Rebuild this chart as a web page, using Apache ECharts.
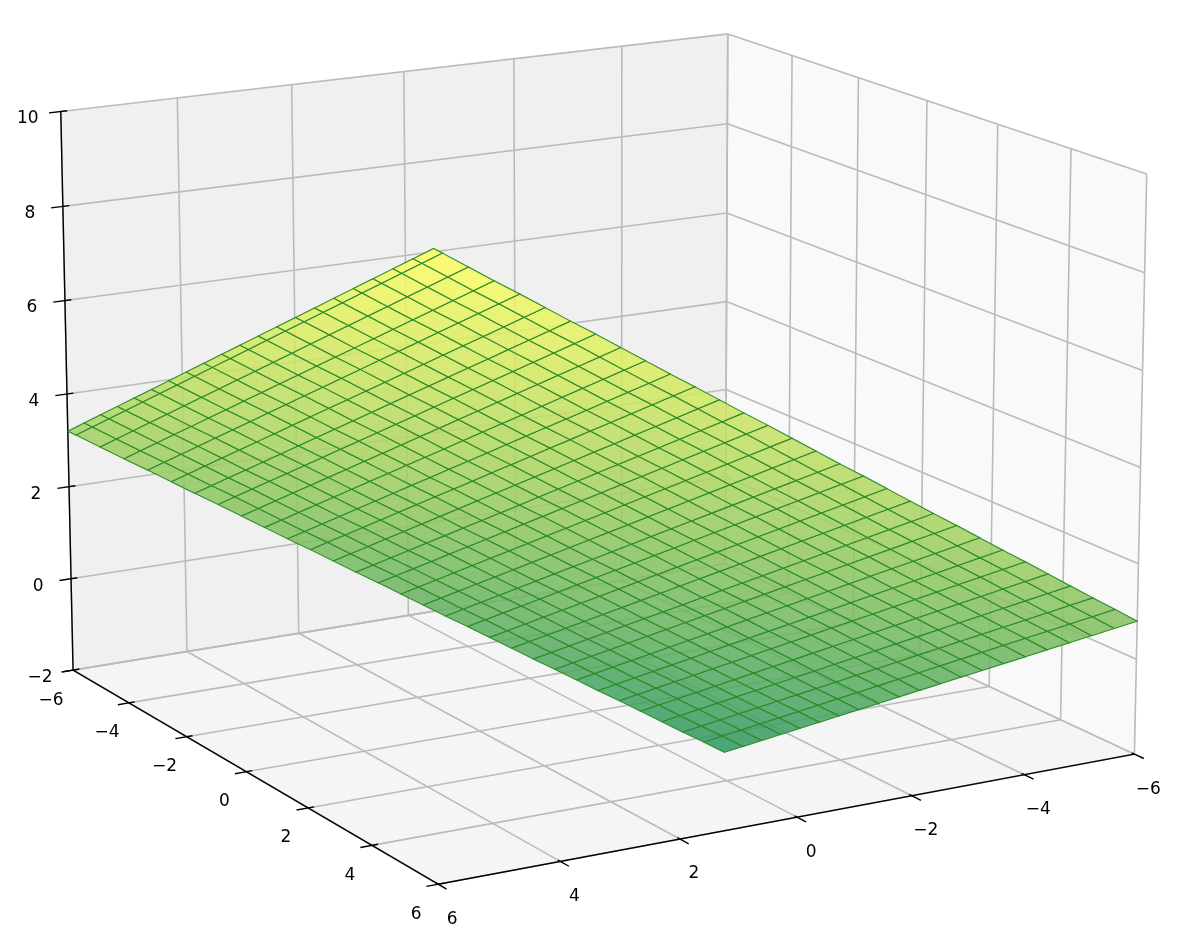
<!DOCTYPE html>
<html><head><meta charset="utf-8"><style>html,body{margin:0;background:#fff}#c{width:1188px;height:940px}</style></head>
<body><div id="c"></div>
<script src="https://cdn.jsdelivr.net/npm/echarts@6/dist/echarts.min.js"></script>
<script>
const xTicks=[-6,-4,-2,0,2,4,6];
const yTicks=[-6,-4,-2,0,2,4,6];
const zTicks=[-2,0,2,4,6,8,10];
const surfaceU=[-6,-5.4,-4.8,-4.2,-3.6,-3,-2.4,-1.8,-1.2,-0.6,0,0.6,1.2,1.8,2.4,3,3.6,4.2,4.8,5.4,6];
const surfaceV=[-6,-5.591,-5.182,-4.773,-4.364,-3.955,-3.546,-3.137,-2.728,-2.319,-1.91,-1.501,-1.092,-0.683,-0.274,0.135,0.544,0.953,1.362,1.771,2.18,2.589,2.998,3.407,3.816,4.225,4.634,5.043,5.452,5.861,6];
const surfaceZ=[
[-6.40,-6.07,-5.75,-5.42,-5.09,-4.76,-4.44,-4.11,-3.78,-3.46,-3.13,-2.80,-2.47,-2.15,-1.82,-1.49,-1.16,-0.84,-0.51,-0.18,0.14,0.47,0.80,1.13,1.45,1.78,2.11,2.43,2.76,3.09,3.20],
[-6.04,-5.71,-5.39,-5.06,-4.73,-4.40,-4.08,-3.75,-3.42,-3.10,-2.77,-2.44,-2.11,-1.79,-1.46,-1.13,-0.80,-0.48,-0.15,0.18,0.50,0.83,1.16,1.49,1.81,2.14,2.47,2.79,3.12,3.45,3.56],
[-5.68,-5.35,-5.03,-4.70,-4.37,-4.04,-3.72,-3.39,-3.06,-2.74,-2.41,-2.08,-1.75,-1.43,-1.10,-0.77,-0.44,-0.12,0.21,0.54,0.86,1.19,1.52,1.85,2.17,2.50,2.83,3.15,3.48,3.81,3.92],
[-5.32,-4.99,-4.67,-4.34,-4.01,-3.68,-3.36,-3.03,-2.70,-2.38,-2.05,-1.72,-1.39,-1.07,-0.74,-0.41,-0.08,0.24,0.57,0.90,1.22,1.55,1.88,2.21,2.53,2.86,3.19,3.51,3.84,4.17,4.28],
[-4.96,-4.63,-4.31,-3.98,-3.65,-3.32,-3.00,-2.67,-2.34,-2.02,-1.69,-1.36,-1.03,-0.71,-0.38,-0.05,0.28,0.60,0.93,1.26,1.58,1.91,2.24,2.57,2.89,3.22,3.55,3.87,4.20,4.53,4.64],
[-4.60,-4.27,-3.95,-3.62,-3.29,-2.96,-2.64,-2.31,-1.98,-1.66,-1.33,-1.00,-0.67,-0.35,-0.02,0.31,0.64,0.96,1.29,1.62,1.94,2.27,2.60,2.93,3.25,3.58,3.91,4.23,4.56,4.89,5.00],
[-4.24,-3.91,-3.59,-3.26,-2.93,-2.60,-2.28,-1.95,-1.62,-1.30,-0.97,-0.64,-0.31,0.01,0.34,0.67,1.00,1.32,1.65,1.98,2.30,2.63,2.96,3.29,3.61,3.94,4.27,4.59,4.92,5.25,5.36],
[-3.88,-3.55,-3.23,-2.90,-2.57,-2.24,-1.92,-1.59,-1.26,-0.94,-0.61,-0.28,0.05,0.37,0.70,1.03,1.36,1.68,2.01,2.34,2.66,2.99,3.32,3.65,3.97,4.30,4.63,4.95,5.28,5.61,5.72],
[-3.52,-3.19,-2.87,-2.54,-2.21,-1.88,-1.56,-1.23,-0.90,-0.58,-0.25,0.08,0.41,0.73,1.06,1.39,1.72,2.04,2.37,2.70,3.02,3.35,3.68,4.01,4.33,4.66,4.99,5.31,5.64,5.97,6.08],
[-3.16,-2.83,-2.51,-2.18,-1.85,-1.52,-1.20,-0.87,-0.54,-0.22,0.11,0.44,0.77,1.09,1.42,1.75,2.08,2.40,2.73,3.06,3.38,3.71,4.04,4.37,4.69,5.02,5.35,5.67,6.00,6.33,6.44],
[-2.80,-2.47,-2.15,-1.82,-1.49,-1.16,-0.84,-0.51,-0.18,0.14,0.47,0.80,1.13,1.45,1.78,2.11,2.44,2.76,3.09,3.42,3.74,4.07,4.40,4.73,5.05,5.38,5.71,6.03,6.36,6.69,6.80],
[-2.44,-2.11,-1.79,-1.46,-1.13,-0.80,-0.48,-0.15,0.18,0.50,0.83,1.16,1.49,1.81,2.14,2.47,2.80,3.12,3.45,3.78,4.10,4.43,4.76,5.09,5.41,5.74,6.07,6.39,6.72,7.05,7.16],
[-2.08,-1.75,-1.43,-1.10,-0.77,-0.44,-0.12,0.21,0.54,0.86,1.19,1.52,1.85,2.17,2.50,2.83,3.16,3.48,3.81,4.14,4.46,4.79,5.12,5.45,5.77,6.10,6.43,6.75,7.08,7.41,7.52],
[-1.72,-1.39,-1.07,-0.74,-0.41,-0.08,0.24,0.57,0.90,1.22,1.55,1.88,2.21,2.53,2.86,3.19,3.52,3.84,4.17,4.50,4.82,5.15,5.48,5.81,6.13,6.46,6.79,7.11,7.44,7.77,7.88],
[-1.36,-1.03,-0.71,-0.38,-0.05,0.28,0.60,0.93,1.26,1.58,1.91,2.24,2.57,2.89,3.22,3.55,3.88,4.20,4.53,4.86,5.18,5.51,5.84,6.17,6.49,6.82,7.15,7.47,7.80,8.13,8.24],
[-1.00,-0.67,-0.35,-0.02,0.31,0.64,0.96,1.29,1.62,1.94,2.27,2.60,2.93,3.25,3.58,3.91,4.24,4.56,4.89,5.22,5.54,5.87,6.20,6.53,6.85,7.18,7.51,7.83,8.16,8.49,8.60],
[-0.64,-0.31,0.01,0.34,0.67,1.00,1.32,1.65,1.98,2.30,2.63,2.96,3.29,3.61,3.94,4.27,4.60,4.92,5.25,5.58,5.90,6.23,6.56,6.89,7.21,7.54,7.87,8.19,8.52,8.85,8.96],
[-0.28,0.05,0.37,0.70,1.03,1.36,1.68,2.01,2.34,2.66,2.99,3.32,3.65,3.97,4.30,4.63,4.96,5.28,5.61,5.94,6.26,6.59,6.92,7.25,7.57,7.90,8.23,8.55,8.88,9.21,9.32],
[0.08,0.41,0.73,1.06,1.39,1.72,2.04,2.37,2.70,3.02,3.35,3.68,4.01,4.33,4.66,4.99,5.32,5.64,5.97,6.30,6.62,6.95,7.28,7.61,7.93,8.26,8.59,8.91,9.24,9.57,9.68],
[0.44,0.77,1.09,1.42,1.75,2.08,2.40,2.73,3.06,3.38,3.71,4.04,4.37,4.69,5.02,5.35,5.68,6.00,6.33,6.66,6.98,7.31,7.64,7.97,8.29,8.62,8.95,9.27,9.60,9.93,10.04],
[0.80,1.13,1.45,1.78,2.11,2.44,2.76,3.09,3.42,3.74,4.07,4.40,4.73,5.05,5.38,5.71,6.04,6.36,6.69,7.02,7.34,7.67,8.00,8.33,8.65,8.98,9.31,9.63,9.96,10.29,10.40]
];
const camera=[0.16513,-0.35539,-0.00699,0.59301,0.06567,0.03785,-0.28725,0.61823,-0.04970,-0.02956,-0.01139];
function project(u,v,z){const P=camera,X=u/6,Y=v/6,Z=z/6,w=P[8]*X+P[9]*Y+P[10]*Z+1;return [1000*(P[0]*X+P[1]*Y+P[2]*Z+P[3])/w,1000*(P[4]*X+P[5]*Y+P[6]*Z+P[7])/w];}
const uMin=xTicks[0],uMax=xTicks[6],vMin=yTicks[0],vMax=yTicks[6],zLo=zTicks[0],zHi=zTicks[6];
const panes=[
{c:'#f0f0f0',p:[[uMin,vMax,zLo],[uMin,vMin,zLo],[uMin,vMin,zHi],[uMin,vMax,zHi]]},
{c:'#f9f9f9',p:[[uMin,vMin,zLo],[uMax,vMin,zLo],[uMax,vMin,zHi],[uMin,vMin,zHi]]},
{c:'#f5f5f5',p:[[uMin,vMax,zLo],[uMax,vMax,zLo],[uMax,vMin,zLo],[uMin,vMin,zLo]]}];
const gridLines=[];
zTicks.forEach(z=>{gridLines.push([uMin,vMax,z,uMin,vMin,z]);gridLines.push([uMin,vMin,z,uMax,vMin,z]);});
yTicks.forEach(v=>{gridLines.push([uMin,v,zLo,uMin,v,zHi]);gridLines.push([uMin,v,zLo,uMax,v,zLo]);});
xTicks.forEach(u=>{gridLines.push([u,vMin,zLo,u,vMin,zHi]);gridLines.push([u,vMax,zLo,u,vMin,zLo]);});
const axisLines=[[uMin,vMax,zLo,uMin,vMax,zHi],[uMin,vMax,zLo,uMax,vMax,zLo],[uMax,vMax,zLo,uMax,vMin,zLo]];
xTicks.forEach(u=>axisLines.push([u,vMax+0.19,zLo,u,vMax-0.1,zLo]));
yTicks.forEach(v=>axisLines.push([uMax+0.25,v,zLo,uMax-0.07,v,zLo]));
zTicks.forEach(z=>axisLines.push([uMin,vMax+0.2,z,uMin,vMax-0.11,z]));
const zVals=surfaceZ.flat(),zmin=Math.min(...zVals),zmax=Math.max(...zVals);
const cells=[];
for(let i=0;i<surfaceU.length-1;i++)for(let j=0;j<surfaceV.length-1;j++)
cells.push([surfaceU[i],surfaceU[i+1],surfaceV[j],surfaceV[j+1],surfaceZ[i][j],surfaceZ[i+1][j],surfaceZ[i+1][j+1],surfaceZ[i][j+1]]);
const labels=[];
xTicks.forEach(t=>labels.push([t,vMax,zLo,-22,30,t]));
yTicks.forEach(t=>labels.push([uMax,t,zLo,14,35,t]));
zTicks.forEach(z=>labels.push([uMin,vMax,z,-33,7.5,z]));
function fmt(n){return n<0?'\u2212'+(-n):''+n;}
function seg(col,w){return (p,api)=>{const a=api.coord(project(api.value(0),api.value(1),api.value(2))),b=api.coord(project(api.value(3),api.value(4),api.value(5)));return {type:'line',shape:{x1:a[0],y1:a[1],x2:b[0],y2:b[1]},style:{stroke:col,lineWidth:w,fill:null}};};}
const base={type:'custom',coordinateSystem:'cartesian2d',silent:true,animation:false,clip:false,encode:{x:0,y:1}};
const chart=echarts.init(document.getElementById('c'),null,{renderer:'canvas'});
chart.setOption({animation:false,backgroundColor:'#fff',
grid:{left:0,right:0,top:0,bottom:0},
xAxis:{type:'value',min:0,max:1188,show:false},yAxis:{type:'value',min:0,max:940,inverse:true,show:false},
series:[
Object.assign({},base,{data:panes.map((p,i)=>[i]),renderItem:(q,api)=>{const f=panes[api.value(0)];return {type:'polygon',shape:{points:f.p.map(a=>api.coord(project(a[0],a[1],a[2])))},style:{fill:f.c}};}}),
Object.assign({},base,{data:gridLines,renderItem:seg('#bbbbbb',1.6)}),
Object.assign({},base,{data:axisLines,renderItem:seg('#000',1.4)}),
Object.assign({},base,{data:cells,renderItem:(q,api)=>{const u0=api.value(0),u1=api.value(1),v0=api.value(2),v1=api.value(3),z=[4,5,6,7].map(i=>api.value(i));
const t=((z[0]+z[1]+z[2]+z[3])/4-zmin)/(zmax-zmin);const col=`rgba(${Math.round(42+213*t)},${Math.round(148+107*t)},96,0.85)`;
return {type:'polygon',shape:{points:[[u0,v0,z[0]],[u1,v0,z[1]],[u1,v1,z[2]],[u0,v1,z[3]]].map(a=>api.coord(project(a[0],a[1],a[2])))},style:{fill:col,stroke:'#2f8c2a',lineWidth:1.1}};}}),
Object.assign({},base,{data:labels,renderItem:(q,api)=>{const c=api.coord(project(api.value(0),api.value(1),api.value(2)));return {type:'text',x:c[0]+api.value(3),y:c[1]+api.value(4),style:{text:fmt(api.value(5)),fill:'#000',font:'17px "DejaVu Sans"',align:'center',verticalAlign:'middle'}};}})
]});
</script></body></html>
